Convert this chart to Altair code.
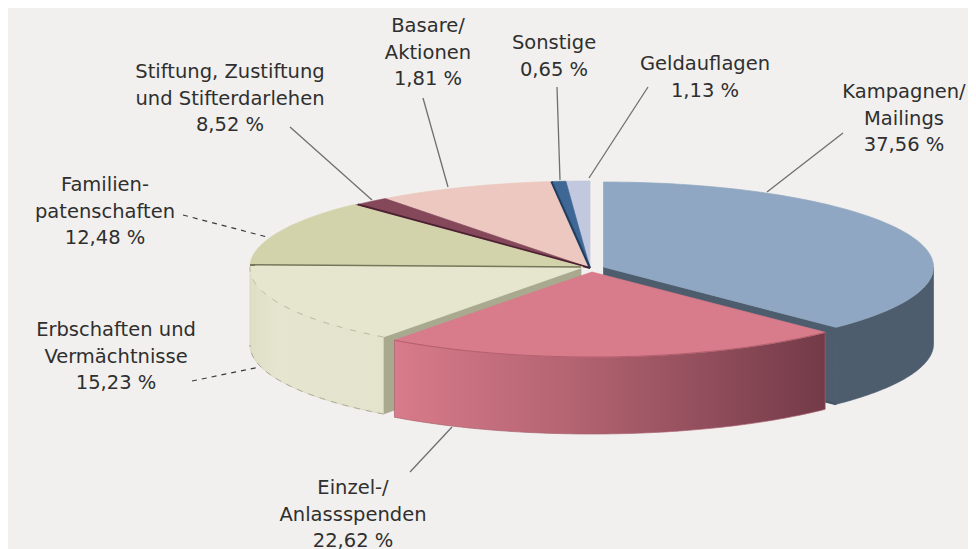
import numpy as np
import pandas as pd
import altair as alt

# chart values, clockwise from 12 o'clock (slice order as drawn in the picture)
slice_names = ["Kampagnen", "Einzel", "Erbschaften", "Familien", "Stiftung", "Basare", "Sonstige", "Geldauflagen"]
slice_values = [37.56, 22.62, 15.23, 12.48, 1.81, 8.52, 0.65, 1.13]
top_colors = ["#8fa7c2", "#d87b8a", "#e6e6cf", "#d3d3ab", "#85485b", "#ecc8c0", "#3f6796", "#c2c9df"]

label_lines = [
    ["Basare/", "Aktionen", "1,81 %"],
    ["Stiftung, Zustiftung", "und Stifterdarlehen", "8,52 %"],
    ["Familien-", "patenschaften", "12,48 %"],
    ["Sonstige", "0,65 %"],
    ["Geldauflagen", "1,13 %"],
    ["Kampagnen/", "Mailings", "37,56 %"],
    ["Erbschaften und", "Vermächtnisse", "15,23 %"],
    ["Einzel-/", "Anlassspenden", "22,62 %"],
]
label_x = [428, 230, 105, 554, 705, 904, 116, 353]
label_y = [26, 72, 185, 43, 64, 92, 330, 488]
line_step = 26.7

leader_x1 = [423, 290, 183, 557, 648, 843, 192, 410]
leader_y1 = [98, 127, 215, 87, 87, 133, 381, 472]
leader_x2 = [448, 372, 267, 560, 589, 767, 260, 452]
leader_y2 = [187, 200, 237, 180, 178, 192, 367, 427]
leader_dashed = [False, False, True, False, False, False, True, False]

# pie layout: centre and radii of every slice's ellipse
cx = [603.5, 592, 581, 583, 590, 590, 590, 590]
cy = [267, 272, 268, 267, 268, 268, 268, 268]
rx = [330, 331, 331, 333, 340, 340, 340, 340]
ry = [85, 85, 86, 86, 87, 87, 87, 87]
depth = 77

shares = np.array(slice_values) / sum(slice_values) * 360
ends = np.cumsum(shares)
starts = ends - shares

X = alt.X("x:Q", axis=None, scale=alt.Scale(domain=[8, 968], range=[0, 960]))
Y = alt.Y("y:Q", axis=None, scale=alt.Scale(domain=[8, 549], range=[0, 541]))


def arc(k, a0, a1, dy=0, n=80):
    t = np.radians(np.linspace(a0, a1, n))
    return list(cx[k] + rx[k] * np.sin(t)), list(cy[k] - ry[k] * np.cos(t) + dy)


def poly(xs, ys, fill, stroke=None):
    df = pd.DataFrame({"x": xs, "y": ys, "i": range(len(xs))})
    return alt.Chart(df).mark_line(
        fill=fill, stroke=stroke if stroke else (fill if isinstance(fill, str) else "#a8606e"),
        strokeWidth=0.7, interpolate="linear",
    ).encode(x=X, y=Y, order=alt.Order("i:Q"))


def stroke_path(xs, ys, color, width=1.0, dash=None):
    df = pd.DataFrame({"x": xs, "y": ys, "i": range(len(xs))})
    kw = {"strokeDash": dash} if dash else {}
    return alt.Chart(df).mark_line(color=color, strokeWidth=width, **kw).encode(
        x=X, y=Y, order=alt.Order("i:Q"))


def top(k):
    ax, ay = arc(k, starts[k], ends[k])
    return poly([cx[k]] + ax + [cx[k]], [cy[k]] + ay + [cy[k]], top_colors[k])


def side(k, a0, a1, fill, stroke=None):
    ax, ay = arc(k, a0, a1)
    bx, by = arc(k, a0, a1, depth)
    return poly(ax + bx[::-1] + ax[:1], ay + by[::-1] + ay[:1], fill, stroke)


def cut(k, angle, fill):
    ax, ay = arc(k, angle, angle, n=1)
    xs = [cx[k], ax[0], ax[0], cx[k], cx[k]]
    ys = [cy[k], ay[0], ay[0] + depth, cy[k] + depth, cy[k]]
    return poly(xs, ys, fill)


def edge(k, angle, color, width, dy=0):
    ax, ay = arc(k, angle, angle, n=1)
    return stroke_path([cx[k], ax[0]], [cy[k] + dy, ay[0] + dy], color, width)


pink_side = alt.Gradient(
    gradient="linear", x1=0, x2=1, y1=0, y2=0,
    stops=[alt.GradientStop(offset=0, color="#d87b8a"),
           alt.GradientStop(offset=0.45, color="#b0616f"),
           alt.GradientStop(offset=1, color="#733a48")],
)
cream_side = alt.Gradient(
    gradient="linear", x1=0, x2=1, y1=0, y2=0,
    stops=[alt.GradientStop(offset=0, color="#dfdfc6"),
           alt.GradientStop(offset=0.2, color="#e5e5d0"),
           alt.GradientStop(offset=1, color="#e4e4cd")],
)

layers = []
# leader lines sit behind the pie
for i in range(len(label_x)):
    df = pd.DataFrame({"x": [leader_x1[i], leader_x2[i]], "y": [leader_y1[i], leader_y2[i]], "i": [0, 1]})
    if leader_dashed[i]:
        layers.append(stroke_path(df.x, df.y, "#3a3a3a", 1.2, [5, 5]))
    else:
        layers.append(stroke_path(df.x, df.y, "#6f6f6f", 1.3))

# back slices
for k in [7, 6, 5, 4]:
    layers.append(top(k))
layers.append(edge(6, starts[6] - 0.1, "#1f3f60", 2.2))
layers.append(edge(4, starts[4] + 0.5, "#4b2030", 2.2))
layers.append(top(3))

# Erbschaften
layers.append(cut(2, starts[2], "#a9a990"))
layers.append(side(2, starts[2], 270, cream_side, "#d2d2ba"))
layers.append(top(2))
ax, ay = arc(2, starts[2], ends[2])
layers.append(stroke_path(ax, ay, "#b9b9a2", 1.0, [6, 8]))
bx, by = arc(2, starts[2], 270, depth)
layers.append(stroke_path(bx, by, "#aaaa94", 1.0, [6, 6]))
layers.append(edge(2, ends[2], "#76765a", 1.6, -1))

# Kampagnen
layers.append(cut(0, ends[0], "#4e5d6e"))
layers.append(side(0, 90, ends[0], "#4e5d6e"))
layers.append(edge(0, ends[0], "#465465", 2.0, 77))
layers.append(top(0))

# Einzel-/Anlassspenden
layers.append(side(1, starts[1], ends[1], pink_side))
layers.append(top(1))
ax, ay = arc(1, starts[1], ends[1])
layers.append(stroke_path(ax, ay, "#b5606e", 1.0))

# labels
rows = [
    {"x": label_x[i], "y": label_y[i] + j * line_step, "t": t}
    for i, lines in enumerate(label_lines) for j, t in enumerate(lines)
]
layers.append(
    alt.Chart(pd.DataFrame(rows)).mark_text(
        font="DejaVu Sans", fontSize=19.5, color="#2f2f2f", align="center", baseline="middle",
    ).encode(x=X, y=Y, text="t:N")
)

chart = alt.layer(*layers).properties(
    width=960, height=541, background="#f1f0ee", padding=0, autosize="none",
).configure_view(stroke=None)

chart.save("out.html", embed_options={"renderer": "svg", "actions": False})
